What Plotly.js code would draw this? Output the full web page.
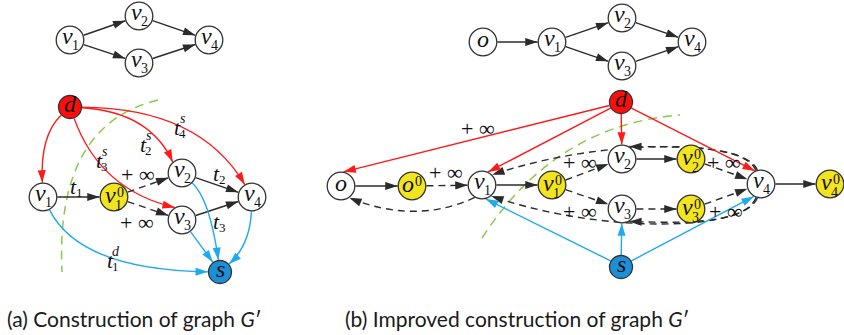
<!DOCTYPE html>
<html><head><meta charset="utf-8">
<script src="https://cdn.plot.ly/plotly-3.0.1.min.js"></script>
<style>html,body{margin:0;padding:0;background:#fff}</style>
</head><body><div id="chart" style="width:844px;height:335px"></div>
<script>
// ---------------- DATA ----------------
// nodes: id, x, y, kind (w white / y yellow / r red / b blue), label base, subscript, superscript
const nodeIds  = ['a_v1t','a_v2t','a_v3t','a_v4t','a_d','a_v1','a_v10','a_v2','a_v3','a_v4','a_s',
                  'b_ot','b_v1t','b_v2t','b_v3t','b_v4t','b_d','b_o','b_o0','b_v1','b_v10','b_v2','b_v20','b_v3','b_v30','b_v4','b_v40','b_s'];
const nodeX    = [70,139,139,209, 70,43,114,182,182,252,220,
                  483,552,622,622,692, 621,341,412,482,552,622,691,622,691,761,830,621];
const nodeY    = [40,16,63,40, 107,197,197,173,220,197,272,
                  42,42,18,66,42, 102,186,186,185,185,159,159,209,209,184,184,267];
const nodeKind = ['w','w','w','w','r','w','y','w','w','w','b',
                  'w','w','w','w','w','r','w','y','w','y','w','y','w','y','w','y','b'];
const nodeBase = ['v','v','v','v','d','v','v','v','v','v','s',
                  'o','v','v','v','v','d','o','o','v','v','v','v','v','v','v','v','s'];
const nodeSub  = ['1','2','3','4','','1','1','2','3','4','',
                  '','1','2','3','4','','','','1','1','2','2','3','3','4','4',''];
const nodeSup  = ['','','','','','','0','','','','',
                  '','','','','','','','0','','0','','0','','0','','0',''];

// edges: from node index -> to node index, colour kind, dashed
const edgeFrom = [0,0,1,2, 4,4,4,4, 5,6,6,7,8, 5,7,8,9, 11,12,12,13,14,
                  17,18,19,20,20,21,23,22,24,25, 19,25,25,25,25, 16,16,16,16, 27,27,27];
const edgeTo   = [1,2,3,3, 5,8,7,9, 6,7,8,9,9, 10,10,10,10, 12,13,14,15,15,
                  18,19,20,21,23,22,24,25,25,26, 17,21,19,23,19, 17,19,21,25, 19,23,25];
const edgeColor= ['k','k','k','k', 'r','r','r','r', 'k','k','k','k','k', 'b','b','b','b', 'k','k','k','k','k',
                  'k','k','k','k','k','k','k','k','k','k', 'k','k','k','k','k', 'r','r','r','r', 'b','b','b'];
const edgeDash = [0,0,0,0, 0,0,0,0, 0,1,1,0,0, 0,0,0,0, 0,0,0,0,0,
                  0,1,0,1,1,0,1,1,1,0, 1,1,1,1,1, 0,0,0,0, 0,0,0];

// edge labels
const edgeLabBase = ['t','t','t','t','t','t','t','+ ∞','+ ∞',
                     '+ ∞','+ ∞','+ ∞','+ ∞','+ ∞','+ ∞'];
const edgeLabSub  = ['1','2','3','1','4','2','3','','', '','','','','',''];
const edgeLabSup  = ['','','','d','s','s','s','','', '','','','','',''];
const edgeLabX    = [75,218,218,110,177,143,99,138,137, 478,446,580,580,724,726];
const edgeLabY    = [186,173,221,260,127,144,160,174,222, 128,172,162,211,162,211];

const captions = ['(a) Construction of graph <i>G</i>′', '(b) Improved construction of graph <i>G</i>′'];

// ---------------- STYLE ----------------
const curve = { // bezier control points for curved edges
  4:[[40,135]], 5:[[100,190]], 6:[[150,112]], 7:[[200,108]],
  13:[[80,270]], 14:[[210,200]], 16:[[250,245]],
  32:[[415,225]],
  33:[[745,145],[680,147]], 34:[[745,138],[600,138]],
  35:[[745,225],[680,223]], 36:[[745,232],[600,234]]
};
const startPort = {32:120, 33:-110, 34:-105, 35:110, 36:105};
const endPort = {5:-120, 6:-130, 32:55, 33:-60, 34:-45, 35:60, 36:50, 37:-80, 38:-65, 40:-115, 41:75, 43:120};
const colors = {k:'#2b2b2b', r:'#ff1a1a', b:'#1eaaf0'};
const fills = {w:'#ffffff', y:'#f2e41e', r:'#ff0d0d', b:'#1c8fd6'};
const radius = {w:13.8, y:13.8, r:11.5, b:11.5};
const serif = 'Liberation Serif, Times New Roman, serif';

function rOf(i){ return radius[nodeKind[i]] + 0.6; }
function onCircle(i, tx, ty){
  const dx = tx - nodeX[i], dy = ty - nodeY[i], L = Math.hypot(dx,dy);
  return [nodeX[i] + rOf(i)*dx/L, nodeY[i] + rOf(i)*dy/L];
}
function atAngle(i, deg){
  const a = deg*Math.PI/180;
  return [nodeX[i] + rOf(i)*Math.cos(a), nodeY[i] + rOf(i)*Math.sin(a)];
}

const shapes = [];
const annotations = [];
const hx=[], hy=[], hang=[], hcol=[];

// green cut lines
shapes.push({type:'path', xref:'x', yref:'y', layer:'below', path:'M158,100 Q55,125 62,272',
  line:{color:'#8cc84b', width:1.5, dash:'9px,6px'}});
shapes.push({type:'path', xref:'x', yref:'y', layer:'below', path:'M482,238 Q555,125 680,115',
  line:{color:'#8cc84b', width:1.5, dash:'9px,6px'}});

for(let e=0;e<edgeFrom.length;e++){
  const f = edgeFrom[e], t = edgeTo[e];
  const ctl = curve[e] || [];
  const firstAim = ctl.length ? ctl[0] : [nodeX[t], nodeY[t]];
  const lastAim = ctl.length ? ctl[ctl.length-1] : [nodeX[f], nodeY[f]];
  const p0 = (e in startPort) ? atAngle(f, startPort[e]) : onCircle(f, firstAim[0], firstAim[1]);
  const p1 = (e in endPort) ? atAngle(t, endPort[e]) : onCircle(t, lastAim[0], lastAim[1]);
  let path, prev;
  if(ctl.length===0){ path = `M${p0[0]},${p0[1]} L${p1[0]},${p1[1]}`; prev = p0; }
  else if(ctl.length===1){ path = `M${p0[0]},${p0[1]} Q${ctl[0][0]},${ctl[0][1]} ${p1[0]},${p1[1]}`; prev = ctl[0]; }
  else { path = `M${p0[0]},${p0[1]} C${ctl[0][0]},${ctl[0][1]} ${ctl[1][0]},${ctl[1][1]} ${p1[0]},${p1[1]}`; prev = ctl[1]; }
  const col = colors[edgeColor[e]];
  shapes.push({type:'path', xref:'x', yref:'y', layer:'below', path:path,
    line:{color:col, width:1.4, dash: edgeDash[e] ? '7px,5px' : 'solid'}});
  const dx = p1[0]-prev[0], dy = p1[1]-prev[1];
  hx.push(p1[0]); hy.push(p1[1]); hang.push(Math.atan2(dy,dx)*180/Math.PI + 90); hcol.push(col);
}

// text pieces as annotations
function txt(x, y, s, size){
  annotations.push({x:x, y:y, xref:'x', yref:'y', xanchor:'center', yanchor:'middle', showarrow:false,
    text:s, font:{family:serif, size:size, color:'#111'}});
}
function nodeLabel(x, y, base, sub, sup){
  const b = '<i>'+base+'</i>';
  if(sup){
    txt(x-4, y-2, b, 24);
    txt(x+6, y-5, sup, 14);
    if(sub) txt(x+4, y+8, sub, 14);
  } else if(sub){
    txt(x-3, y-4, b, 24);
    txt(x+5, y+5, sub, 14);
  } else txt(x, y-3, b, 24);
}
function edgeLabel(x, y, base, sub, sup){
  if(base !== 't'){ txt(x, y, base, 22); return; }
  const b = '<i>t</i>';
  if(sup){
    txt(x, y, b, 22);
    txt(x+6, y-9, '<i>'+sup+'</i>', 14);
    txt(x+5, y+6, sub, 13);
  } else {
    txt(x-2, y, b, 22);
    txt(x+4, y+6, sub, 13);
  }
}
for(let i=0;i<nodeX.length;i++) nodeLabel(nodeX[i], nodeY[i], nodeBase[i], nodeSub[i], nodeSup[i]);
for(let i=0;i<edgeLabX.length;i++) edgeLabel(edgeLabX[i], edgeLabY[i], edgeLabBase[i], edgeLabSub[i], edgeLabSup[i]);

captions.forEach((c,i)=>annotations.push({x: i===0 ? 5 : 343, y:318, xref:'x', yref:'y', xanchor:'left', yanchor:'middle',
  showarrow:false, text:c, font:{family:'Lato', size:21, color:'#1a1a1a'}}));

const traces = [
  {type:'scatter', mode:'markers', x:nodeX, y:nodeY, hoverinfo:'skip',
   marker:{size:nodeKind.map(k=>radius[k]*2), color:nodeKind.map(k=>fills[k]), opacity:1,
     line:{color:'#333', width:1.3}}},
  {type:'scatter', mode:'markers', x:hx, y:hy, hoverinfo:'skip',
   marker:{symbol:'arrow', size:13, angle:hang, color:hcol, opacity:1, line:{width:0}}}
];

const layout = {
  width:844, height:335, margin:{l:0,r:0,t:0,b:0}, showlegend:false,
  font:{family:serif},
  paper_bgcolor:'#fff', plot_bgcolor:'#fff',
  xaxis:{range:[0,844], visible:false, fixedrange:true},
  yaxis:{range:[335,0], visible:false, fixedrange:true},
  shapes:shapes, annotations:annotations
};
Plotly.newPlot('chart', traces, layout, {displayModeBar:false, staticPlot:true});
</script></body></html>
